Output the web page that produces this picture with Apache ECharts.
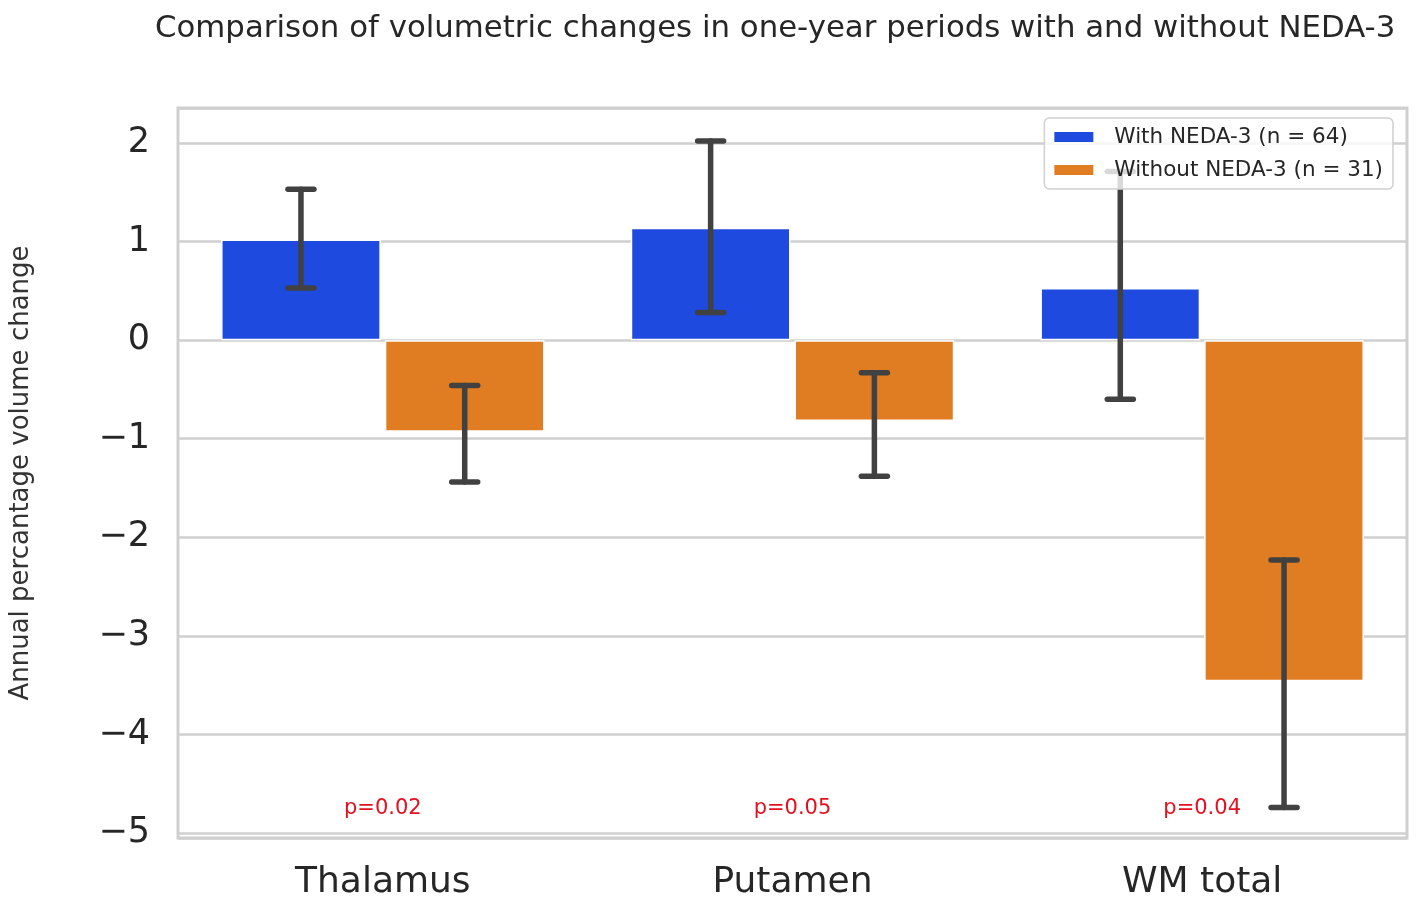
<!DOCTYPE html>
<html>
<head>
<meta charset="utf-8">
<script src="https://cdn.jsdelivr.net/npm/echarts@6/dist/echarts.min.js"></script>
<style>
html,body{margin:0;padding:0;background:#fff;}
#chart{width:1418px;height:911px;}
</style>
</head>
<body>
<div id="chart"></div>
<script>
// ---- data ----
const categories = ['Thalamus', 'Putamen', 'WM total'];
const seriesNames = ['With NEDA-3 (n = 64)', 'Without NEDA-3 (n = 31)'];
const withMeans = [1.02, 1.14, 0.53];
const withLow = [0.53, 0.28, -0.60];
const withHigh = [1.53, 2.02, 1.71];
const withoutMeans = [-0.93, -0.82, -3.46];
const withoutLow = [-1.44, -1.38, -4.74];
const withoutHigh = [-0.46, -0.33, -2.23];
const pValues = ['p=0.02', 'p=0.05', 'p=0.04'];
const yTicks = [-5, -4, -3, -2, -1, 0, 1, 2];

// ---- styling constants ----
const FONT = 'DejaVu Sans';
const BLUE = '#1f4ae0';
const ORANGE = '#e07c21';
const ERR = '#414141';
const GRIDC = '#cfcfcf';
const BAR_W = 0.39;      // fraction of category band
const BAR_GAP = 0.025;   // fraction of bar width
const P_LEVEL = -4.75;

function errRender(sign) {
  return function (params, api) {
    const band = api.size([1, 0])[0];
    const bw = band * BAR_W;
    const off = sign * (bw / 2 + bw * BAR_GAP / 2);
    const lo = api.coord([api.value(0), api.value(1)]);
    const hi = api.coord([api.value(0), api.value(2)]);
    const x = lo[0] + off;
    const cap = 13;
    const st = { stroke: ERR, lineWidth: 5.5, lineCap: 'round' };
    return {
      type: 'group',
      children: [
        { type: 'line', shape: { x1: x, y1: lo[1], x2: x, y2: hi[1] }, style: st },
        { type: 'line', shape: { x1: x - cap, y1: lo[1], x2: x + cap, y2: lo[1] }, style: st },
        { type: 'line', shape: { x1: x - cap, y1: hi[1], x2: x + cap, y2: hi[1] }, style: st }
      ]
    };
  };
}

const chart = echarts.init(document.getElementById('chart'));
chart.setOption({
  animation: false,
  backgroundColor: '#ffffff',
  title: {
    text: 'Comparison of volumetric changes in one-year periods with and without NEDA-3',
    left: 150, top: 8,
    textStyle: { fontFamily: FONT, fontSize: 30.8, fontWeight: 'normal', color: '#262626' }
  },
  legend: {
    data: seriesNames,
    orient: 'vertical',
    right: 25, top: 118,
    padding: [8, 10, 8, 8],
    itemGap: 11,
    itemWidth: 41, itemHeight: 12,
    icon: 'rect',
    backgroundColor: 'rgba(255,255,255,0.8)',
    borderColor: '#d0d0d0', borderWidth: 1.5, borderRadius: 5,
    z: 10,
    textStyle: { fontFamily: FONT, fontSize: 21.5, color: '#262626', padding: [0, 0, 0, 15] }
  },
  grid: {
    left: 178, right: 11, top: 108, bottom: 73,
    show: true, borderColor: GRIDC, borderWidth: 3, backgroundColor: '#fff'
  },
  xAxis: {
    type: 'category',
    data: categories,
    axisLine: { show: false }, axisTick: { show: false },
    axisLabel: { fontFamily: FONT, fontSize: 36, color: '#262626', margin: 27 },
    splitLine: { show: false }
  },
  yAxis: {
    type: 'value',
    min: -5.05, max: 2.355,
    minInterval: 1, maxInterval: 1,
    name: 'Annual percantage volume change',
    nameLocation: 'middle',
    nameGap: 144,
    nameTextStyle: { fontFamily: FONT, fontSize: 26, color: '#333333' },
    axisLine: { show: false }, axisTick: { show: false },
    axisLabel: {
      fontFamily: FONT, fontSize: 35, color: '#262626', margin: 28,
      showMinLabel: true, showMaxLabel: true,
      formatter: function (v) {
        const r = Math.round(v);
        if (Math.abs(v - r) > 1e-6 || yTicks.indexOf(r) < 0) return '';
        return String(r).replace('-', '\u2212');
      }
    },
    splitLine: { show: true, lineStyle: { color: GRIDC, width: 2.5 } }
  },
  series: [
    {
      name: seriesNames[0], type: 'bar', data: withMeans,
      barWidth: (BAR_W * 100) + '%', barGap: (BAR_GAP * 100) + '%',
      itemStyle: { color: BLUE, borderColor: '#ffffff', borderWidth: 1.5 }
    },
    {
      name: seriesNames[1], type: 'bar', data: withoutMeans,
      barWidth: (BAR_W * 100) + '%', barGap: (BAR_GAP * 100) + '%',
      itemStyle: { color: ORANGE, borderColor: '#ffffff', borderWidth: 1.5 }
    },
    {
      type: 'custom', name: 'err1', z: 5,
      renderItem: errRender(-1),
      encode: { x: 0, y: [1, 2] },
      data: categories.map((c, i) => [i, withLow[i], withHigh[i]])
    },
    {
      type: 'custom', name: 'err2', z: 5,
      renderItem: errRender(1),
      encode: { x: 0, y: [1, 2] },
      data: categories.map((c, i) => [i, withoutLow[i], withoutHigh[i]])
    },
    {
      type: 'custom', name: 'pvals', z: 6,
      renderItem: function (params, api) {
        const p = api.coord([api.value(0), P_LEVEL]);
        return {
          type: 'text',
          style: {
            text: pValues[params.dataIndex], x: p[0], y: p[1],
            textAlign: 'center', textVerticalAlign: 'middle',
            font: '21px "DejaVu Sans"', fill: '#e3101f'
          }
        };
      },
      encode: { x: 0 },
      data: categories.map((c, i) => [i])
    }
  ]
});
</script>
</body>
</html>
